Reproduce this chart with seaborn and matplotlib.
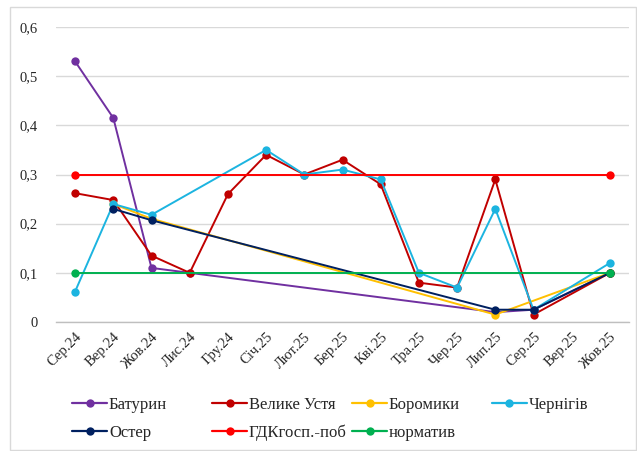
import numpy as np
import pandas as pd
import seaborn as sns
import matplotlib.pyplot as plt
from matplotlib.lines import Line2D
from matplotlib.patches import Rectangle

# Months (categories on the x axis)
months = ["Сер.24", "Вер.24", "Жов.24", "Лис.24", "Гру.24", "Січ.25", "Лют.25", "Бер.25",
          "Кві.25", "Тра.25", "Чер.25", "Лип.25", "Сер.25", "Вер.25", "Жов.25"]

nan = np.nan
baturyn = [0.53, 0.415, 0.11, 0.10, nan, nan, nan, nan, nan, nan, nan, 0.02, 0.025, nan, 0.10]
velyke_ustia = [0.262, 0.248, 0.135, 0.10, 0.26, 0.34, 0.30, 0.33, 0.28, 0.08, 0.07, 0.29, 0.015, nan, 0.10]
boromyky = [nan, 0.24, 0.21, nan, nan, nan, nan, nan, nan, nan, nan, 0.015, nan, nan, 0.10]
chernihiv = [0.062, 0.24, 0.218, nan, nan, 0.35, 0.30, 0.31, 0.29, 0.10, 0.07, 0.23, 0.025, nan, 0.12]
oster = [nan, 0.23, 0.207, nan, nan, nan, nan, nan, nan, nan, nan, 0.025, 0.025, nan, 0.10]
gdk = [0.30, nan, nan, nan, nan, nan, nan, nan, nan, nan, nan, nan, nan, nan, 0.30]
normatyv = [0.10, nan, nan, nan, nan, nan, nan, nan, nan, nan, nan, nan, nan, nan, 0.10]

series_names = ["Батурин", "Велике Устя", "Боромики", "Чернігів", "Остер", "ГДКгосп.-поб", "норматив"]
series_values = [baturyn, velyke_ustia, boromyky, chernihiv, oster, gdk, normatyv]
colors = ["#7030A0", "#C00000", "#FFC000", "#1CB4E0", "#002060", "#FF0000", "#00B050"]

rows = []
for name, vals in zip(series_names, series_values):
    for i, v in enumerate(vals):
        if not np.isnan(v):
            rows.append({"series": name, "idx": i, "month": months[i], "value": v})
df = pd.DataFrame(rows)

sns.set_style("white")
plt.rcParams["font.family"] = ["Liberation Serif", "DejaVu Serif"]

W, H = 637, 451
fig = plt.figure(figsize=(W / 100, H / 100), dpi=100)
ax = fig.add_axes([56 / W, 1 - 322 / H, (629 - 56) / W, (322 - 27) / H])

for name, color in zip(series_names, colors):
    sub = df[df["series"] == name]
    sns.lineplot(data=sub, x="idx", y="value", color=color, marker="o",
                 markersize=6, markeredgewidth=0, linewidth=1.4, sort=True,
                 ax=ax, legend=False)

ax.set_xlim(-0.5, len(months) - 0.5)
ax.set_ylim(0, 0.6)
ax.set_xticks(range(len(months)))
ax.set_xticklabels(months, rotation=45, ha="right", rotation_mode="anchor", fontsize=10.5)
ax.set_xticks(np.arange(-0.5, len(months)), minor=True)
ax.tick_params(axis="x", which="major", length=0, pad=6)
ax.tick_params(axis="x", which="minor", length=4, color="#BFBFBF", width=1)
yt = [0, 0.1, 0.2, 0.3, 0.4, 0.5, 0.6]
ax.set_yticks(yt)
ax.set_yticklabels(["0"] + [f"{v:.1f}".replace(".", ",") for v in yt[1:]], fontsize=10.5)
ax.tick_params(axis="y", length=0, pad=13)
ax.set_xlabel("")
ax.set_ylabel("")
ax.yaxis.grid(True, color="#D9D9D9", linewidth=1)
ax.set_axisbelow(True)
for s in ["top", "right", "left"]:
    ax.spines[s].set_visible(False)
ax.spines["bottom"].set_color("#BFBFBF")
ax.spines["bottom"].set_linewidth(1)

# Legend: four columns placed like the Excel legend (row-major)
handles = [Line2D([], [], color=c, marker="o", markersize=6, markeredgewidth=0, linewidth=1.6)
           for c in colors]
columns = [[0, 4], [1, 5], [2, 6], [3]]
col_x = [72, 212, 352, 492]
for idxs, x in zip(columns, col_x):
    fig.legend([handles[i] for i in idxs], [series_names[i] for i in idxs],
               loc="upper left", bbox_to_anchor=(x / W, 1 - 397 / H),
               frameon=False, fontsize=12, handlelength=2.1, handletextpad=0.12,
               labelspacing=0.7, borderpad=0, borderaxespad=0)

fig.patches.append(Rectangle((10 / W, 1 / H), 626 / W, 443 / H,
                             transform=fig.transFigure, fill=False,
                             edgecolor="#D9D9D9", linewidth=1))

plt.savefig("out.png", dpi=100)
